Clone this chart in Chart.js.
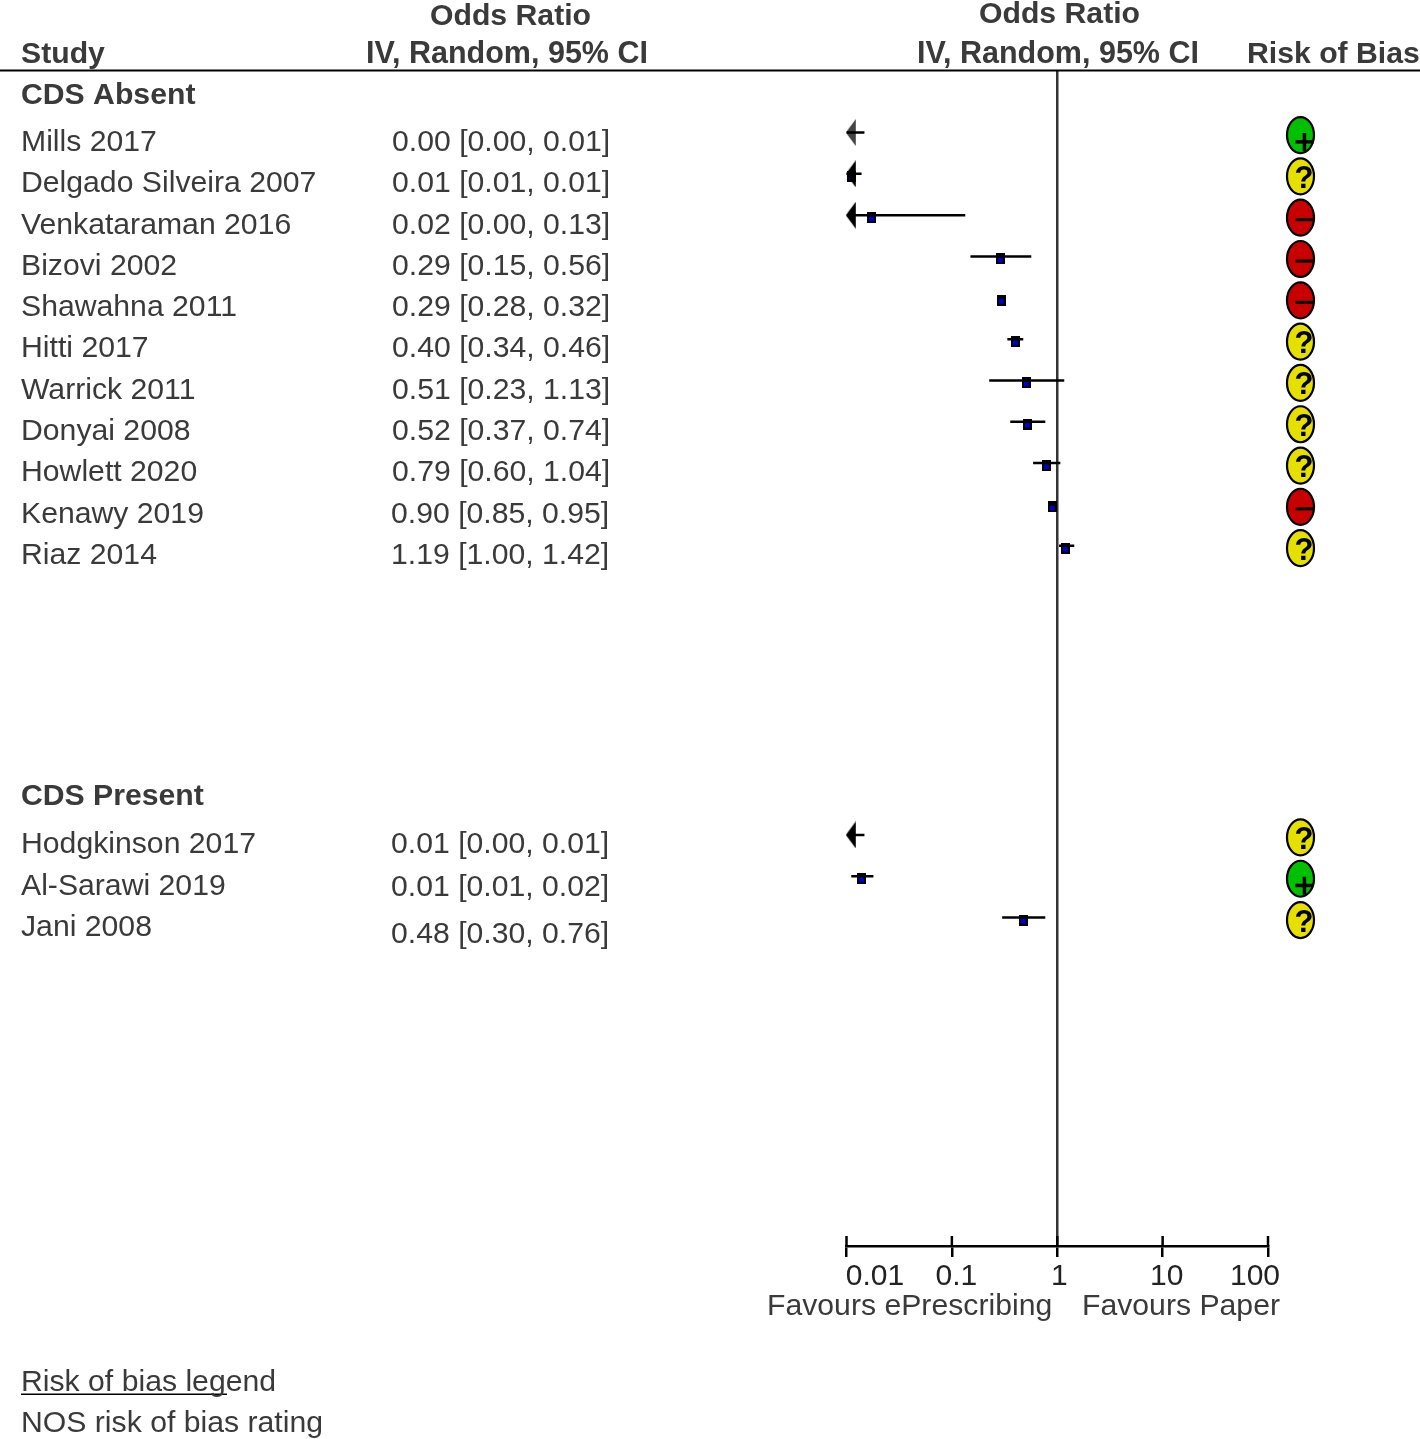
<!DOCTYPE html>
<html>
<head>
<meta charset="utf-8">
<title>Forest plot</title>
<script src="https://cdn.jsdelivr.net/npm/chart.js@4"></script>
<style>
    body { margin: 0; background: #fff; }
    canvas { display: block; }
</style>
</head>
<body>
<canvas id="forest" width="1420" height="1439"></canvas>
<script>
const studies = ["Mills 2017", "Delgado Silveira 2007", "Venkataraman 2016", "Bizovi 2002", "Shawahna 2011", "Hitti 2017",
    "Warrick 2011", "Donyai 2008", "Howlett 2020", "Kenawy 2019", "Riaz 2014", "Hodgkinson 2017", "Al-Sarawi 2019", "Jani 2008"];
const orLabels = ["0.00 [0.00, 0.01]", "0.01 [0.01, 0.01]", "0.02 [0.00, 0.13]", "0.29 [0.15, 0.56]", "0.29 [0.28, 0.32]", "0.40 [0.34, 0.46]",
    "0.51 [0.23, 1.13]", "0.52 [0.37, 0.74]", "0.79 [0.60, 1.04]", "0.90 [0.85, 0.95]", "1.19 [1.00, 1.42]", "0.01 [0.00, 0.01]", "0.01 [0.01, 0.02]", "0.48 [0.30, 0.76]"];
const rows = [0, 1, 2, 3, 4, 5, 6, 7, 8, 9, 10, 17, 18, 19];
// point estimates and CI, null where the square is off the scale
const oddsRatio = [null, 0.0111, 0.0173, 0.288, 0.294, 0.40, 0.508, 0.52, 0.787, 0.896, 1.19, null, 0.0139, 0.476];
const ciLow = [0.001, 0.001, 0.001, 0.15, 0.28, 0.336, 0.226, 0.358, 0.59, 0.85, 1.04, 0.001, 0.0111, 0.30];
const ciHigh = [0.0148, 0.0139, 0.134, 0.567, 0.32, 0.476, 1.165, 0.77, 1.07, 0.95, 1.45, 0.0148, 0.018, 0.77];
const risk = ["+", "?", "-", "-", "-", "?", "?", "?", "?", "-", "?", "?", "+", "?"];
const tickValues = [0.01, 0.1, 1, 10, 100];
const tickLabels = ["0.01", "0.1", "1", "10", "100"];
const tickNudge = [28.5, 4.5, 2, 4, -13];

const fontName = "'Liberation Sans', Helvetica, Arial, sans-serif";
const textColor = "#3a3a3a";

const headers = [
    ["Odds Ratio", 430, 17], ["IV, Random, 95% CI", 366, 55], ["Odds Ratio", 979, 15], ["IV, Random, 95% CI", 917, 55],
    ["Study", 21, 55], ["Risk of Bias", 1247, 55], ["CDS Absent", 21, 96], ["CDS Present", 21, 797]
];
const notes = [
    ["Favours ePrescribing", 767, 1307], ["Favours Paper", 1082, 1307],
    ["Risk of bias legend", 21, 1383], ["NOS risk of bias rating", 21, 1424]
];

function makeArrow(color) {
    let c = document.createElement("canvas");
    c.width = 11;
    c.height = 27;
    let g = c.getContext("2d");
    g.fillStyle = color;
    g.beginPath();
    g.moveTo(0, 13.5);
    g.lineTo(10, 0);
    g.lineTo(10, 27);
    g.closePath();
    g.fill();
    return c;
}

function makeSquare() {
    let c = document.createElement("canvas");
    c.width = 9;
    c.height = 11;
    let g = c.getContext("2d");
    g.fillStyle = "#000";
    g.fillRect(0, 0, 9, 11);
    g.fillStyle = "#0000c8";
    g.fillRect(2, 2, 5, 7);
    return c;
}

function drawRisk(ctx, value, x, y) {
    const fills = { "+": "#00c000", "?": "#e6e000", "-": "#c80000" };
    ctx.beginPath();
    ctx.ellipse(x, y, 13.5, 18, 0, 0, Math.PI * 2);
    ctx.fillStyle = fills[value];
    ctx.fill();
    ctx.lineWidth = 2.2;
    ctx.strokeStyle = "#000";
    ctx.stroke();
    ctx.fillStyle = "#000";
    if (value === "?") {
        ctx.font = "bold 31px " + fontName;
        ctx.fillText("?", x - 6, y + 3);
    } else if (value === "-") {
        ctx.fillRect(x - 5, y + 0.5, 18, 3);
    } else {
        ctx.fillRect(x - 5, y + 5, 18, 3.5);
        ctx.fillRect(x + 2.2, y - 2, 3.5, 18);
    }
}

const textPlugin = {
    id: "forestText",
    afterLayout(chart) {
        // the end labels sit inside the axis in the original
        chart.scales.x.getLabelItems().forEach((item, i) => {
            item.options.translation[0] += tickNudge[i];
        });
    },
    afterDraw(chart) {
        const ctx = chart.ctx;
        const xs = chart.scales.x;
        const ys = chart.scales.y;
        ctx.save();
        ctx.textBaseline = "middle";
        ctx.textAlign = "left";

        ctx.fillStyle = "#000";
        ctx.fillRect(0, 69.5, 1420, 2);
        ctx.fillRect(21, 1393.5, 206, 1.5);

        ctx.strokeStyle = "#000";
        ctx.lineWidth = 2.5;
        tickValues.forEach((v) => {
            let px = xs.getPixelForValue(v);
            ctx.beginPath();
            ctx.moveTo(px, 1236);
            ctx.lineTo(px, 1246);
            ctx.stroke();
        });

        ctx.fillStyle = textColor;
        headers.forEach((h) => {
            ctx.font = (h[0].startsWith("IV") ? "bold 30.5px " : "bold 30.2px ") + fontName;
            ctx.fillText(h[0], h[1], h[2]);
        });
        ctx.font = "30.2px " + fontName;
        notes.forEach((n) => ctx.fillText(n[0], n[1], n[2]));

        for (let i = 0; i < studies.length; i++) {
            let rowY = ys.getPixelForValue(rows[i]);
            ctx.font = "30.2px " + fontName;
            ctx.fillStyle = textColor;
            ctx.fillText(studies[i], 21, rowY + 10);
            let orY = rowY + 10;
            if (studies[i] === "Jani 2008") orY += 7;
            if (studies[i] === "Al-Sarawi 2019") orY += 1;
            ctx.fillText(orLabels[i], i > 8 ? 391 : 392, orY);
            drawRisk(ctx, risk[i], 1300.5, rowY + 2.5);
        }
        ctx.restore();
    }
};

// one line per study, drawn and clipped by the chart
let ciSets = studies.map((name, i) => ({
    label: name,
    data: [{ x: ciLow[i], y: rows[i] }, { x: ciHigh[i], y: rows[i] }],
    showLine: true,
    borderColor: "#000",
    borderWidth: 2.5,
    pointRadius: 0
}));

const arrowRows = rows.filter((r, i) => ciLow[i] < 0.01);
const arrowGrey = makeArrow("#444444");
const arrowBlack = makeArrow("#000000");
const square = makeSquare();

const forest = new Chart(document.getElementById("forest"), {
    type: "scatter",
    data: {
        datasets: ciSets.concat([
            {
                label: "off scale",
                data: arrowRows.map((r) => ({ x: 0.0111, y: r })),
                pointStyle: arrowRows.map((r) => (r === 0 ? arrowGrey : arrowBlack)),
                pointRadius: 5
            },
            {
                label: "Odds ratio",
                data: oddsRatio.map((v, i) => ({ x: v, y: rows[i] + 0.06 })).filter((p) => p.x !== null),
                pointStyle: square,
                pointRadius: 5
            }
        ])
    },
    plugins: [textPlugin],
    options: {
        responsive: false,
        animation: false,
        events: [],
        layout: { padding: { left: 846.5, right: 152, top: 71, bottom: 133 } },
        plugins: { legend: { display: false }, tooltip: { enabled: false } },
        scales: {
            x: {
                type: "logarithmic",
                min: 0.01,
                max: 100,
                afterBuildTicks: (scale) => {
                    scale.ticks = tickValues.map((v) => ({ value: v }));
                },
                afterFit: (scale) => {
                    scale.height = 60;
                },
                border: { color: "#000", width: 2.5 },
                grid: {
                    color: (c) => (c.tick && c.tick.value === 1 ? "#333333" : "rgba(0,0,0,0)"),
                    lineWidth: 2.5,
                    tickColor: "#000",
                    tickLength: 11
                },
                ticks: {
                    autoSkip: false,
                    maxRotation: 0,
                    padding: 2,
                    color: "#222222",
                    font: { family: fontName, size: 30 },
                    callback: (v) => tickLabels[tickValues.indexOf(v)]
                }
            },
            y: {
                display: false,
                reverse: true,
                min: -1.49,
                max: 26.95
            }
        }
    }
});
</script>
</body>
</html>
